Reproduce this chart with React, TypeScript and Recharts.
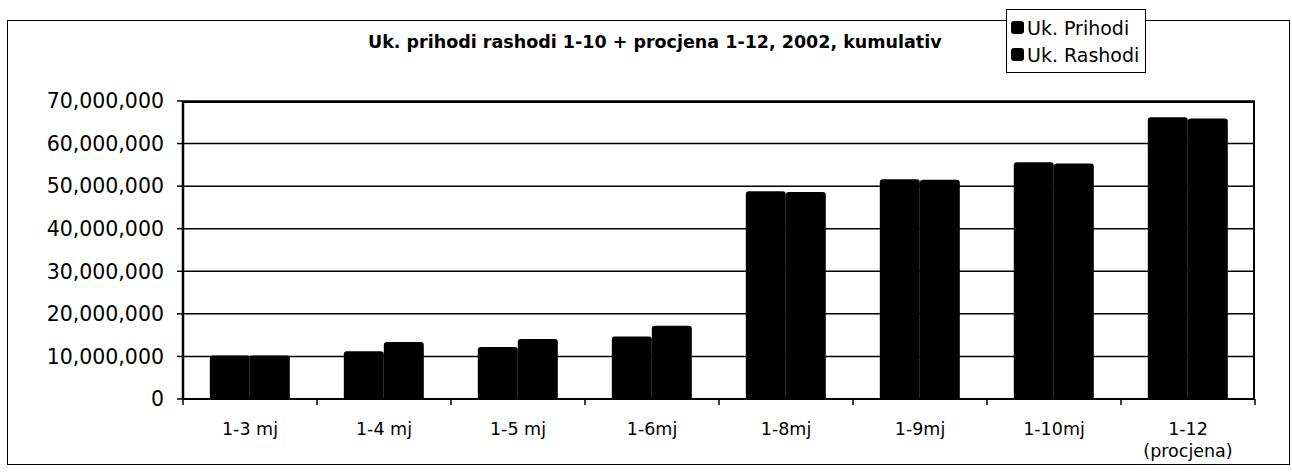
import { BarChart, Bar, XAxis, YAxis, CartesianGrid } from "recharts";

const categories = ["1-3 mj", "1-4 mj", "1-5 mj", "1-6mj", "1-8mj", "1-9mj", "1-10mj", "1-12\n(procjena)"];
const prihodi = [10200000, 11200000, 12200000, 14700000, 48800000, 51600000, 55600000, 66200000];
const rashodi = [10200000, 13400000, 14100000, 17200000, 48600000, 51500000, 55300000, 65900000];
const yTicks = [0, 10000000, 20000000, 30000000, 40000000, 50000000, 60000000, 70000000];
const seriesNames = ["Uk. Prihodi", "Uk. Rashodi"];

const data = categories.map((name, i) => ({ name, prihodi: prihodi[i], rashodi: rashodi[i] }));

const W = 1292;
const H = 472;
const PLOT_LEFT = 183;
const PLOT_RIGHT = 1255;
const PLOT_TOP = 101;
const PLOT_BOTTOM = 399;
const X_AXIS_H = 70;
const HALF_BAND = (PLOT_RIGHT - PLOT_LEFT) / categories.length / 2;
const FONT = "'DejaVu Sans', sans-serif";

function XTick(props: any) {
  const { x, payload, index } = props;
  const lines = String(payload.value).split("\n");
  return (
    <g>
      <line x1={x - HALF_BAND} x2={x - HALF_BAND} y1={PLOT_BOTTOM} y2={PLOT_BOTTOM + 6} stroke="#000" strokeWidth={1.5} />
      {index === categories.length - 1 && (
        <line x1={x + HALF_BAND} x2={x + HALF_BAND} y1={PLOT_BOTTOM} y2={PLOT_BOTTOM + 6} stroke="#000" strokeWidth={1.5} />
      )}
      {lines.map((l, i) => (
        <text key={i} x={x} y={PLOT_BOTTOM + 36 + i * 22} textAnchor="middle" fontSize={17.5} fontFamily={FONT} fill="#000">
          {l}
        </text>
      ))}
    </g>
  );
}

export default function App() {
  return (
    <div style={{ position: "absolute", left: 0, top: 0, width: W, height: H, background: "#fff" }}>
      <div style={{ position: "absolute", left: 7, top: 20, width: 1281, height: 443, border: "1px solid #000" }} />
      <div
        style={{
          position: "absolute",
          left: 368,
          top: 32,
          fontFamily: FONT,
          fontWeight: "bold",
          fontSize: 17.5,
          whiteSpace: "nowrap",
        }}
      >
        Uk. prihodi rashodi 1-10 + procjena 1-12, 2002, kumulativ
      </div>
      <div
        style={{
          position: "absolute",
          left: 1006,
          top: 9,
          border: "1px solid #000",
          background: "#fff",
          padding: "4px 6px 4px 4px",
          fontFamily: FONT,
          fontSize: 19,
        }}
      >
        {seriesNames.map((t) => (
          <div key={t} style={{ display: "flex", alignItems: "center", height: 27 }}>
            <span style={{ width: 13, height: 13, background: "#000", borderRadius: 3, marginRight: 3, display: "inline-block" }} />
            {t}
          </div>
        ))}
      </div>
      <BarChart
        width={W}
        height={H}
        data={data}
        margin={{ top: PLOT_TOP, right: W - PLOT_RIGHT, bottom: H - PLOT_BOTTOM - X_AXIS_H, left: 0 }}
        barCategoryGap="20%"
        barGap={0}
      >
        <CartesianGrid vertical={false} stroke="#000" strokeWidth={1.5} />
        <XAxis
          dataKey="name"
          height={X_AXIS_H}
          interval={0}
          tickLine={false}
          axisLine={{ stroke: "#000", strokeWidth: 2 }}
          tick={<XTick />}
        />
        <YAxis
          width={PLOT_LEFT}
          domain={[0, 70000000]}
          ticks={yTicks}
          interval={0}
          tickSize={6}
          tickMargin={13}
          tickLine={{ stroke: "#000", strokeWidth: 1.5 }}
          axisLine={{ stroke: "#000", strokeWidth: 2.5 }}
          tick={{ fill: "#000", fontSize: 20.5, fontFamily: FONT }}
          tickFormatter={(v: number) => v.toLocaleString("en-US")}
        />
        <Bar dataKey="prihodi" name={seriesNames[0]} fill="#000" radius={[3, 3, 0, 0]} isAnimationActive={false} />
        <Bar dataKey="rashodi" name={seriesNames[1]} fill="#000" radius={[3, 3, 0, 0]} isAnimationActive={false} />
      </BarChart>
      <div
        style={{
          position: "absolute",
          left: PLOT_LEFT,
          top: PLOT_TOP,
          width: PLOT_RIGHT - PLOT_LEFT,
          height: PLOT_BOTTOM - PLOT_TOP,
          boxSizing: "border-box",
          borderRight: "2px solid #000",
          borderTop: "2px solid #000",
          pointerEvents: "none",
        }}
      />
    </div>
  );
}
